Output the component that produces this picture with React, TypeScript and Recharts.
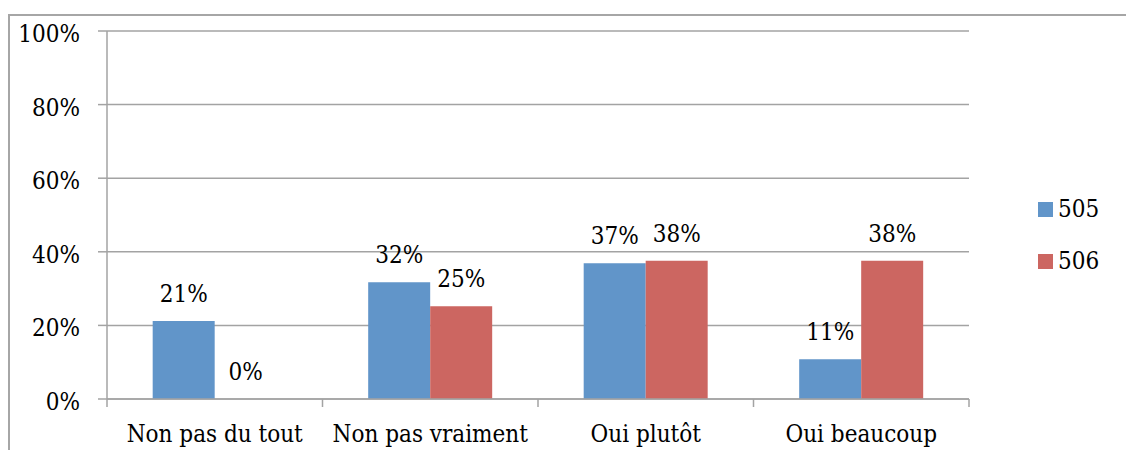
import React from 'react';
import { BarChart, Bar, XAxis, YAxis, CartesianGrid, Legend } from 'recharts';

const categories = ['Non pas du tout', 'Non pas vraiment', 'Oui plutôt', 'Oui beaucoup'];
const series505 = [0.212, 0.317, 0.369, 0.108];
const series506 = [0, 0.252, 0.376, 0.376];
const yTicks = [0, 0.2, 0.4, 0.6, 0.8, 1];
const seriesNames = ['505', '506'];
const colors = ['#6195c9', '#cc6661'];

const data = categories.map((c, i) => ({ name: c, s505: series505[i], s506: series506[i] }));

const FONT = "'DejaVu Serif Condensed', 'DejaVu Serif', serif";
const GRID = '#a3a3a3';

const pct = (v: number) => `${Math.round(v * 100)}%`;

const XTick = (props: any) => {
  const { x, y, payload, index, visibleTicksCount } = props;
  const band = 215.5;
  const count = visibleTicksCount ?? categories.length;
  return (
    <g>
      <line x1={x - band / 2} x2={x - band / 2} y1={y} y2={y + 8} stroke={GRID} strokeWidth={1.5} />
      {index === count - 1 && (
        <line x1={x + band / 2} x2={x + band / 2} y1={y} y2={y + 8} stroke={GRID} strokeWidth={1.5} />
      )}
      <text x={x} y={y + 43} textAnchor="middle" fontFamily={FONT} fontSize={24} fill="#000">
        {payload.value}
      </text>
    </g>
  );
};

const YTick = (props: any) => {
  const { y, payload } = props;
  return (
    <text x={80} y={y + 11} textAnchor="end" fontFamily={FONT} fontSize={24} fill="#000">
      {pct(payload.value)}
    </text>
  );
};

const BarLabel = (props: any) => {
  const { x, y, width, height, value } = props;
  const top = Math.min(y, y + (height || 0));
  return (
    <text x={x + width / 2} y={top - 19} textAnchor="middle" fontFamily={FONT} fontSize={24} fill="#000">
      {pct(Number(value))}
    </text>
  );
};

const LegendContent = () => (
  <div style={{ position: 'relative', width: 90, height: 90 }}>
    {seriesNames.map((n, i) => (
      <div key={n} style={{ position: 'absolute', left: 0, top: i * 52, height: 24 }}>
        <div style={{ position: 'absolute', left: 0, top: 2, width: 15, height: 15, background: colors[i] }} />
        <div style={{ position: 'absolute', left: 20, top: -6, fontFamily: FONT, fontSize: 24, lineHeight: '30px', color: '#000' }}>{n}</div>
      </div>
    ))}
  </div>
);

export default function App() {
  return (
    <div style={{ position: 'absolute', left: 0, top: 0, width: 1126, height: 450, overflow: 'hidden', background: '#fff' }}>
      <div style={{ position: 'absolute', left: 8, top: 14, width: 1200, height: 600, border: '2px solid #a6a6a6', boxSizing: 'border-box' }} />
      <div style={{ position: 'absolute', left: 0, top: 0 }}>
        <BarChart width={1126} height={450} data={data} margin={{ top: 31, right: 67, bottom: 0, left: 0 }} barCategoryGap="21.2%" barGap={0}>
          <CartesianGrid vertical={false} stroke={GRID} strokeWidth={1.5} />
          <XAxis dataKey="name" tick={<XTick />} tickLine={false} tickSize={0} tickMargin={0} axisLine={{ stroke: GRID, strokeWidth: 1.5 }} height={51} interval={0} />
          <YAxis
            domain={[0, 1]}
            ticks={yTicks}
            tick={<YTick />}
            tickSize={9}
            tickLine={{ stroke: GRID, strokeWidth: 1.5 }}
            axisLine={{ stroke: GRID, strokeWidth: 1.5 }}
            width={107}
            interval={0}
          />
          <Legend
            layout="vertical"
            align="right"
            verticalAlign="middle"
            content={<LegendContent />}
            wrapperStyle={{ left: 1038, top: 200, width: 90, height: 90 }}
          />
          <Bar dataKey="s505" name={seriesNames[0]} fill={colors[0]} isAnimationActive={false} label={<BarLabel />} />
          <Bar dataKey="s506" name={seriesNames[1]} fill={colors[1]} isAnimationActive={false} minPointSize={0.01} label={<BarLabel />} />
        </BarChart>
      </div>
    </div>
  );
}
